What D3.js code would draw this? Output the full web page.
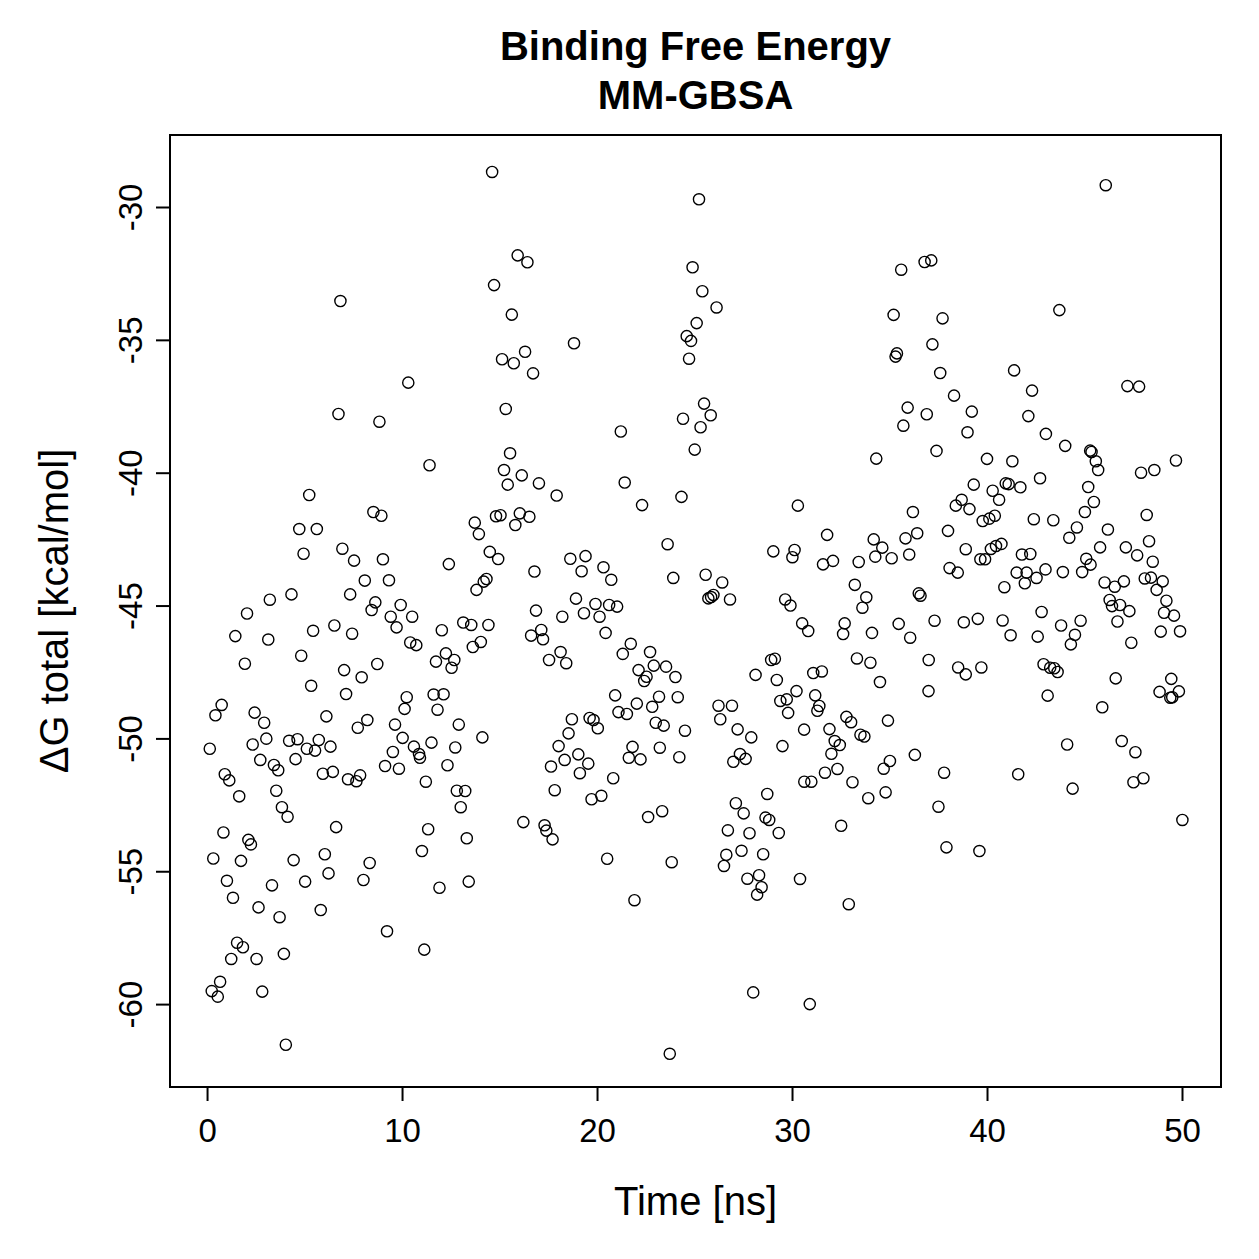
<!DOCTYPE html>
<html>
<head>
<meta charset="utf-8">
<script src="https://cdn.jsdelivr.net/npm/d3@7"></script>
<style>
  body { margin: 0; background: #fff; }
  text { font-family: "Liberation Sans", Arial, Helvetica, sans-serif; fill: #000; }
</style>
</head>
<body>
<div id="binding-energy"></div>
<script>
var titleLines = ["Binding Free Energy", "MM-GBSA"];
var xLabel = "Time [ns]";
var yLabel = "\u0394G total [kcal/mol]";
var xTicks = [0, 10, 20, 30, 40, 50];
var yTicks = [-30, -35, -40, -45, -50, -55, -60];
// R style 4% padding round the data
var xDomain = [-1.9, 52.0];
var yDomain = [-63.12, -27.29];

// [time (ns), dG total (kcal/mol)]
var samples = [
  [6.84,-33.54],[6.74,-37.79],[5.24,-40.84],[4.73,-42.12],[5.63,-42.12],[4.95,-43.05],[6.94,-42.86],[7.54,-43.31],
  [8.09,-44.06],[7.34,-44.58],[4.33,-44.58],[3.22,-44.78],[2.05,-45.30],
  [1.45,-46.15],[3.14,-46.28],[5.44,-45.95],[6.53,-45.75],[7.44,-46.06],[1.94,-47.19],[4.83,-46.89],[7.03,-47.43],
  [7.93,-47.70],[5.34,-48.02],[7.13,-48.33],[0.75,-48.74],[0.43,-49.13],[2.44,-49.03],[2.93,-49.41],[6.12,-49.17],
  [7.73,-49.60],[8.22,-49.31],[0.14,-50.39],[2.34,-50.23],[3.04,-50.01],[4.21,-50.09],[4.64,-50.03],[5.12,-50.39],
  [5.54,-50.46],[5.73,-50.06],[6.33,-50.31],[2.73,-50.81],[3.43,-51.00],[3.65,-51.20],[4.54,-50.78],[0.91,-51.35],
  [1.14,-51.58],[5.94,-51.33],[6.45,-51.26],[7.23,-51.54],[7.66,-51.61],[7.85,-51.39],[1.65,-52.18],[3.55,-51.97],
  [3.84,-52.59],[4.13,-52.95],[6.62,-53.34],[0.84,-53.54],[2.12,-53.82],[2.25,-53.99],[0.32,-54.52],[1.74,-54.61],
  [4.44,-54.58],[6.04,-54.36],[8.34,-54.69],[1.02,-55.36],[3.33,-55.53],[5.03,-55.39],[6.23,-55.08],[8.02,-55.33],
  [1.33,-56.00],[2.64,-56.36],[3.72,-56.73],[5.83,-56.46],[1.54,-57.69],[1.84,-57.86],[1.24,-58.30],[2.54,-58.30],
  [3.94,-58.11],[0.67,-59.16],[0.24,-59.51],[0.55,-59.72],[2.83,-59.53],[4.04,-61.53],
  [14.62,-28.68],[15.93,-31.82],[16.43,-32.08],[14.72,-32.94],[15.63,-34.05],[15.13,-35.73],[15.73,-35.88],
  [16.31,-35.45],[16.72,-36.26],[10.32,-36.61],[8.84,-38.08],[15.32,-37.60],[11.41,-39.72],[15.54,-39.27],
  [15.23,-39.90],[16.14,-40.10],[15.42,-40.45],[8.53,-41.48],[8.94,-41.62],[13.73,-41.88],[13.94,-42.31],
  [14.82,-41.64],[15.05,-41.60],[16.04,-41.53],[16.53,-41.66],[15.81,-41.97],[14.50,-42.98],[14.93,-43.25],
  [9.02,-43.26],[12.40,-43.44],[16.79,-43.72],[9.33,-44.05],[14.33,-44.00],[14.19,-44.10],[13.82,-44.41],
  [8.63,-44.88],[8.44,-45.17],[9.93,-44.98],[9.42,-45.42],[10.52,-45.42],[16.87,-45.19],
  [9.72,-45.82],[12.04,-45.93],[13.14,-45.64],[13.55,-45.73],[14.43,-45.73],[16.62,-46.13],[10.42,-46.39],
  [10.73,-46.49],[11.74,-47.11],[12.25,-46.80],[12.68,-47.05],[12.54,-47.34],[13.63,-46.56],[14.04,-46.37],
  [8.73,-47.20],[10.24,-48.45],[10.13,-48.89],[11.62,-48.35],[12.13,-48.34],[11.82,-48.92],[9.64,-49.48],
  [12.91,-49.48],[14.12,-49.96],[10.03,-49.98],[11.51,-50.16],[12.73,-50.34],[9.53,-50.51],[10.61,-50.31],
  [10.87,-50.59],[10.92,-50.73],[9.13,-51.04],[9.84,-51.14],[12.33,-51.01],[11.22,-51.63],[12.81,-51.97],
  [13.24,-51.98],[13.01,-52.59],[16.22,-53.15],[11.34,-53.42],[13.32,-53.76],[11.02,-54.24],[11.92,-55.62],
  [13.42,-55.39],[9.23,-57.26],[11.14,-57.95],
  [25.23,-29.71],[24.90,-32.27],[25.40,-33.17],[25.11,-34.37],[24.60,-34.86],[24.82,-35.04],[24.72,-35.71],
  [18.82,-35.13],[25.49,-37.40],[24.41,-37.97],[25.31,-38.29],[21.22,-38.45],[25.01,-39.13],[17.02,-40.40],
  [17.93,-40.86],[21.42,-40.37],[22.31,-41.22],[24.33,-40.91],[23.62,-42.69],[18.63,-43.24],[19.41,-43.14],
  [19.21,-43.71],[20.33,-43.56],[20.73,-44.03],[23.91,-43.96],[25.57,-43.84],[25.71,-44.73],[18.92,-44.74],
  [19.92,-44.94],[20.62,-44.98],[21.03,-45.04],[18.22,-45.42],[19.33,-45.29],[20.13,-45.42],
  [20.44,-46.03],[17.14,-45.92],[17.23,-46.27],[18.13,-46.75],[17.54,-47.05],[18.42,-47.17],[21.73,-46.44],
  [21.32,-46.82],[22.72,-46.75],[22.91,-47.26],[23.54,-47.30],[24.02,-47.69],[22.13,-47.43],[22.54,-47.68],
  [22.42,-47.84],[20.93,-48.38],[22.04,-48.69],[21.10,-49.01],[21.53,-49.08],[23.18,-48.43],[22.83,-48.81],
  [24.14,-48.45],[23.01,-49.41],[23.42,-49.52],[24.51,-49.71],[18.71,-49.28],[19.62,-49.23],[19.82,-49.31],
  [20.04,-49.62],[18.54,-49.81],[18.03,-50.29],[19.04,-50.60],[18.34,-50.81],[19.55,-50.95],[17.64,-51.06],
  [19.12,-51.31],[21.82,-50.32],[21.63,-50.73],[22.23,-50.79],[23.22,-50.35],[24.22,-50.71],[20.83,-51.50],
  [17.83,-51.95],[19.72,-52.29],[20.22,-52.16],[23.34,-52.74],[22.62,-52.96],[17.31,-53.27],[17.40,-53.47],
  [17.72,-53.80],[20.52,-54.53],[23.83,-54.66],[21.92,-56.09],[23.73,-61.87],
  [26.13,-33.78],[25.83,-37.84],[34.32,-39.47],[30.30,-41.24],[31.80,-42.34],[34.19,-42.51],[34.27,-43.16],
  [29.04,-42.96],[30.13,-42.91],[30.02,-43.18],[31.59,-43.45],[32.10,-43.32],[33.42,-43.36],[26.42,-44.13],
  [25.85,-44.68],[25.97,-44.60],[26.82,-44.77],[29.65,-44.77],[29.92,-45.00],[33.22,-44.22],[33.81,-44.69],
  [33.61,-45.08],
  [30.52,-45.67],[30.83,-45.96],[32.70,-45.67],[32.62,-46.07],[34.10,-46.03],[28.93,-47.05],[29.12,-47.00],
  [28.13,-47.61],[29.22,-47.80],[31.09,-47.54],[31.53,-47.48],[33.33,-46.99],[34.02,-47.15],[26.23,-48.77],
  [26.92,-48.77],[26.32,-49.28],[29.40,-48.59],[29.73,-48.53],[30.23,-48.22],[29.80,-49.04],[31.19,-48.38],
  [31.40,-48.78],[31.30,-48.96],[32.79,-49.19],[33.03,-49.39],[33.51,-49.86],[33.71,-49.93],[27.21,-49.66],
  [27.91,-49.96],[30.62,-49.67],[31.92,-49.65],[32.19,-50.10],[32.45,-50.25],[32.02,-50.58],[29.51,-50.29],
  [27.33,-50.59],[27.62,-50.77],[26.99,-50.88],[31.69,-51.29],[32.33,-51.15],[30.63,-51.63],[30.99,-51.63],
  [33.10,-51.65],[33.91,-52.25],[28.73,-52.09],[27.12,-52.44],[27.52,-52.82],[28.64,-52.98],[28.83,-53.07],
  [32.52,-53.29],[26.71,-53.46],[27.82,-53.57],[29.32,-53.56],[27.41,-54.23],[28.52,-54.36],[26.63,-54.38],
  [26.51,-54.80],[27.71,-55.28],[28.31,-55.15],[28.44,-55.60],[28.21,-55.88],[30.41,-55.29],[32.91,-56.24],
  [28.01,-59.56],[30.91,-60.00],
  [35.60,-32.36],[36.80,-32.07],[37.14,-32.01],[35.21,-34.06],[37.72,-34.19],[37.20,-35.17],[35.38,-35.51],
  [35.31,-35.63],[37.60,-36.25],[41.39,-36.15],[38.31,-37.10],[42.31,-36.91],[35.93,-37.55],[36.91,-37.80],
  [35.71,-38.23],[39.22,-37.70],[42.12,-37.87],[39.00,-38.48],[43.02,-38.54],[37.41,-39.18],[40.00,-39.48],
  [41.30,-39.57],[42.72,-40.21],[39.32,-40.45],[40.96,-40.40],[41.11,-40.43],[41.71,-40.55],[40.29,-40.68],
  [40.62,-41.02],[38.70,-41.02],[38.40,-41.24],[39.10,-41.37],[36.20,-41.48],[40.40,-41.62],[40.12,-41.73],
  [39.78,-41.82],[42.40,-41.75],[34.63,-42.82],[35.11,-43.22],[35.82,-42.47],[36.42,-42.28],[36.01,-43.08],
  [38.00,-42.19],[38.91,-42.88],[38.08,-43.59],[38.50,-43.76],[39.66,-43.26],[39.90,-43.26],[40.20,-42.87],
  [40.46,-42.76],[40.74,-42.68],[41.79,-43.08],[42.22,-43.06],[41.52,-43.76],[42.03,-43.76],[41.94,-44.16],
  [42.54,-43.96],[43.00,-43.64],[40.89,-44.31],[36.50,-44.54],[36.59,-44.63],[42.80,-45.24],
  [35.47,-45.69],[36.06,-46.21],[37.31,-45.57],[38.81,-45.63],[39.53,-45.50],[40.80,-45.56],[41.21,-46.12],
  [42.60,-46.17],[37.01,-47.05],[38.52,-47.33],[38.91,-47.59],[39.71,-47.33],[42.90,-47.21],[34.51,-47.88],
  [37.00,-48.22],[43.11,-48.39],[34.92,-49.33],[36.30,-50.62],[35.02,-50.85],[34.70,-51.14],[37.80,-51.29],
  [41.60,-51.35],[34.80,-52.03],[37.51,-52.57],[37.92,-54.10],[39.61,-54.24],
  [46.09,-29.18],[43.71,-33.88],[47.20,-36.74],[47.80,-36.76],[44.01,-38.99],[45.29,-39.17],[45.36,-39.22],
  [45.58,-39.57],[45.70,-39.90],[47.90,-40.00],[48.58,-39.90],[49.69,-39.54],[45.19,-40.54],[45.48,-41.10],
  [45.02,-41.48],[43.40,-41.79],[48.19,-41.59],[44.61,-42.06],[44.22,-42.45],[46.20,-42.14],[45.80,-42.81],
  [48.31,-42.58],[47.12,-42.81],[47.70,-43.11],[48.50,-43.35],[45.09,-43.24],[45.31,-43.46],[44.88,-43.74],
  [43.89,-43.74],[46.03,-44.13],[46.55,-44.29],[47.02,-44.09],[48.09,-43.98],[48.41,-43.95],[49.01,-44.09],
  [48.70,-44.41],[49.20,-44.82],[46.29,-44.79],[46.41,-45.02],[46.82,-44.98],[47.30,-45.21],[49.08,-45.27],
  [49.59,-45.38],
  [43.80,-45.75],[44.80,-45.57],[46.69,-45.60],[48.91,-45.98],[49.90,-45.97],[44.51,-46.10],[44.30,-46.46],
  [47.40,-46.40],[43.24,-47.34],[43.45,-47.36],[43.62,-47.50],[46.60,-47.74],[45.91,-48.83],[49.45,-47.76],
  [49.84,-48.23],[48.85,-48.25],[49.40,-48.47],[49.50,-48.45],[44.11,-50.23],[46.91,-50.10],[47.61,-50.52],
  [44.39,-51.89],[47.51,-51.65],[48.02,-51.50],[50.02,-53.07]
];

(function() {
  var outerWidth = 1259,
      outerHeight = 1259,
      margin = { top: 135, right: 38, bottom: 172, left: 170 },
      width = outerWidth - margin.left - margin.right,
      height = outerHeight - margin.top - margin.bottom;

  var svg = d3.select("#binding-energy").append("svg")
      .attr("width", outerWidth)
      .attr("height", outerHeight);

  var x = d3.scaleLinear().domain(xDomain).range([0, width]);
  var y = d3.scaleLinear().domain(yDomain).range([height, 0]);

  var plot = svg.append("g")
      .attr("transform", "translate(" + margin.left + "," + margin.top + ")");

  // points
  plot.append("g")
    .selectAll("circle")
      .data(samples)
    .enter().append("circle")
      .attr("cx", d => x(d[0]))
      .attr("cy", d => y(d[1]))
      .attr("r", 5.6)
      .attr("fill", "none")
      .attr("stroke", "#000")
      .attr("stroke-width", 1.4);

  // plain hyphen like R, not the unicode minus d3 uses
  var plainFormat = d => String(d);

  var xAxis = plot.append("g")
      .attr("transform", "translate(0," + height + ")")
      .call(d3.axisBottom(x).tickValues(xTicks).tickFormat(plainFormat).tickSize(14).tickSizeOuter(0));

  var yAxis = plot.append("g")
      .call(d3.axisLeft(y).tickValues(yTicks).tickFormat(plainFormat).tickSize(14).tickSizeOuter(0));

  [xAxis, yAxis].forEach(function(ax) {
    ax.select(".domain").remove();
    ax.selectAll(".tick line").attr("stroke", "#000").attr("stroke-width", 2);
    ax.selectAll(".tick text")
        .attr("font-family", "Liberation Sans, Arial, sans-serif")
        .attr("font-size", "33px")
        .attr("fill", "#000");
  });

  xAxis.selectAll(".tick text")
      .attr("y", 55)
      .attr("dy", null);

  // R draws y labels parallel to the axis
  yAxis.selectAll(".tick text")
      .attr("x", null)
      .attr("dy", null)
      .attr("text-anchor", "middle")
      .attr("transform", "translate(-28,0) rotate(-90)");

  // frame
  plot.append("rect")
      .attr("width", width)
      .attr("height", height)
      .attr("fill", "none")
      .attr("stroke", "#000")
      .attr("stroke-width", 2);

  svg.selectAll(".title")
      .data(titleLines)
    .enter().append("text")
      .attr("class", "title")
      .attr("x", margin.left + width / 2)
      .attr("y", (d, i) => 60 + i * 49)
      .attr("text-anchor", "middle")
      .attr("font-size", "40px")
      .attr("font-weight", "bold")
      .text(d => d);

  svg.append("text")
      .attr("x", margin.left + width / 2)
      .attr("y", 1215)
      .attr("text-anchor", "middle")
      .attr("font-size", "40px")
      .text(xLabel);

  svg.append("text")
      .attr("transform", "translate(68," + (margin.top + height / 2) + ") rotate(-90)")
      .attr("text-anchor", "middle")
      .attr("font-size", "40px")
      .text(yLabel);
})();
</script>
</body>
</html>
